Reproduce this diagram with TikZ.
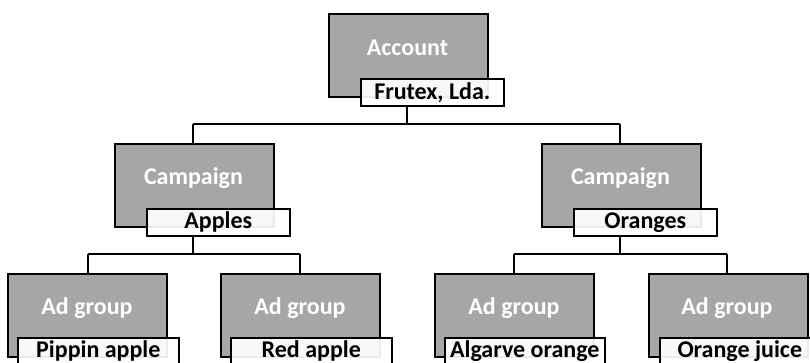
\documentclass[tikz,border=0pt]{standalone}
\usepackage{fontspec}
\setmainfont{Carlito}
\begin{document}
\begin{tikzpicture}[x=1pt,y=-1pt,
  levelbox/.style={draw=black,line width=1.6pt,fill=boxgray,minimum width=159pt,minimum height=83pt,
    anchor=north west,inner sep=0pt},
  levelname/.style={text=white,font=\fontsize{24}{28}\selectfont\bfseries},
  tagbox/.style={draw=black,line width=1.6pt,fill=white,fill opacity=0.92,text opacity=1,
    minimum width=143pt,minimum height=27pt,anchor=north west,inner sep=0pt,
    font=\fontsize{24}{28}\selectfont\bfseries},
  link/.style={draw=black,line width=1.6pt}]
\definecolor{boxgray}{HTML}{A6A6A6}
\useasboundingbox (0,0) rectangle (810,362);

% account level
\node[levelbox] (acc) at (328,13) {};
\node[levelname] at (407.5,48) {Account};
\coordinate (accS) at (407,105);

% campaigns
\node[levelbox] (c1) at (114,143) {};
\node[levelbox] (c2) at (541,143) {};
\node[levelname] at (193.5,178) {Campaign};
\node[levelname] at (620.5,178) {Campaign};

% ad groups
\node[levelbox] (g1) at (7,273) {};
\node[levelbox] (g2) at (220,273) {};
\node[levelbox] (g3) at (434,273) {};
\node[levelbox] (g4) at (648,273) {};
\foreach \cx in {87,300,514,727}
  \node[levelname] at (\cx,308) {Ad group};

% connectors
\coordinate (accJ) at (407,124);
\coordinate (c1J) at (193,124);
\coordinate (c2J) at (620,124);
\draw[link] (accS) -- (accJ);
\draw[link] (c1J) -- (c2J);
\draw[link] (c1J) -- (c1.north -| c1J);
\draw[link] (c2J) -- (c2.north -| c2J);

\coordinate (c1B) at (193,235);
\coordinate (c1D) at (193,254);
\coordinate (g1J) at (88,254);
\coordinate (g2J) at (300,254);
\draw[link] (c1B) -- (c1D);
\draw[link] (g1J) -- (g2J);
\draw[link] (g1J) -- (g1.north -| g1J);
\draw[link] (g2J) -- (g2.north -| g2J);

\coordinate (c2B) at (620,235);
\coordinate (c2D) at (620,254);
\coordinate (g3J) at (514,254);
\coordinate (g4J) at (727,254);
\draw[link] (c2B) -- (c2D);
\draw[link] (g3J) -- (g4J);
\draw[link] (g3J) -- (g3.north -| g3J);
\draw[link] (g4J) -- (g4.north -| g4J);

% name tags
\node[tagbox] (t0) at (360,78) {Frutex, Lda.};
\node[tagbox] (t1) at (146,208) {Apples};
\node[tagbox] (t2) at (573,208) {Oranges};
\node[tagbox,minimum width=161pt] (t3) at (17,337) {Pippin apple};
\node[tagbox,minimum width=161pt] (t4) at (230,337) {Red apple};
\node[tagbox,minimum width=160pt] (t5) at (444,337) {Algarve orange};
\node[tagbox,minimum width=160pt] (t6) at (659,337) {Orange juice};
\end{tikzpicture}
\end{document}
